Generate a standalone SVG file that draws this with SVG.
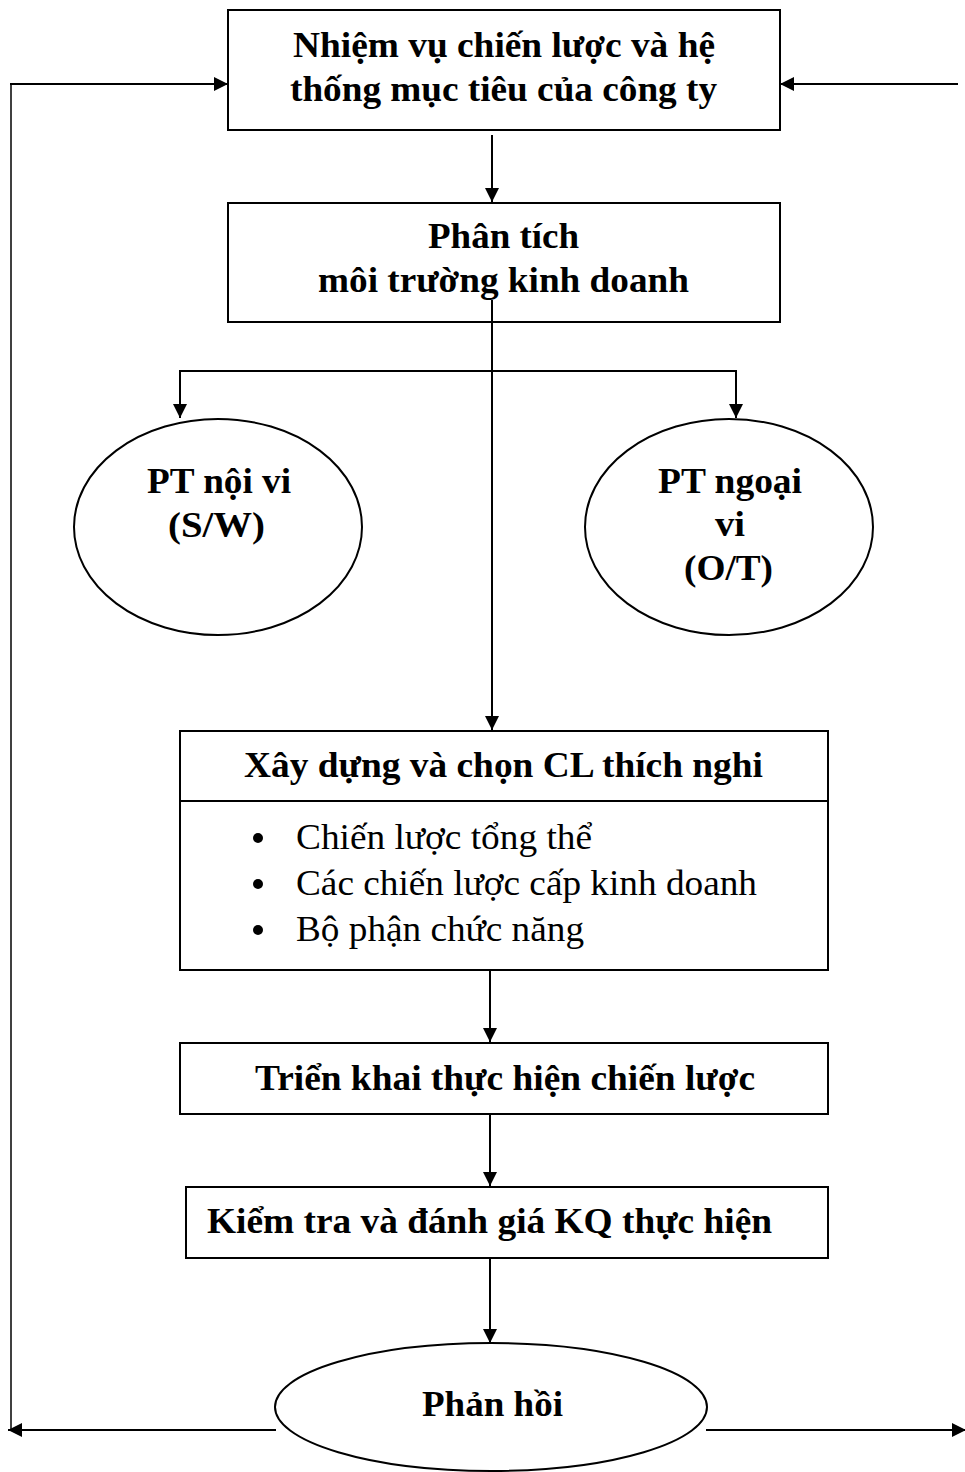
<svg xmlns="http://www.w3.org/2000/svg" width="965" height="1472" viewBox="0 0 965 1472">
<style>
.box{fill:#fff;stroke:#000;stroke-width:2}
.el{fill:#fff;stroke:#000;stroke-width:2}
.b{font-family:"Liberation Serif","Times New Roman",serif;font-weight:bold;font-size:36px;fill:#000;text-anchor:middle}
.r{font-family:"Liberation Serif","Times New Roman",serif;font-size:36px;fill:#000}
.ln{fill:none;stroke:#000;stroke-width:2}
</style>
<defs>
<marker id="ah2" viewBox="0 0 10 10" refX="10" refY="5" markerWidth="14" markerHeight="14" markerUnits="userSpaceOnUse" orient="auto">
<path d="M0,0 L10,5 L0,10 z" fill="#000"/>
</marker>
</defs>
<g id="connectors">
<line class="ln" x1="492" y1="135" x2="492" y2="202" marker-end="url(#ah2)"/>
<line class="ln" x1="492" y1="300" x2="492" y2="730" marker-end="url(#ah2)"/>
<polyline class="ln" points="180,400 180,371 736,371 736,400"/>
<line class="ln" x1="180" y1="390" x2="180" y2="418" marker-end="url(#ah2)"/>
<line class="ln" x1="736" y1="390" x2="736" y2="418" marker-end="url(#ah2)"/>
<line class="ln" x1="490" y1="971" x2="490" y2="1042" marker-end="url(#ah2)"/>
<line class="ln" x1="490" y1="1115" x2="490" y2="1186" marker-end="url(#ah2)"/>
<line class="ln" x1="490" y1="1259" x2="490" y2="1343" marker-end="url(#ah2)"/>
<line class="ln" x1="276" y1="1430" x2="8" y2="1430" marker-end="url(#ah2)"/>
<line class="ln" x1="706" y1="1430" x2="966" y2="1430" marker-end="url(#ah2)"/>
<line class="ln" x1="11" y1="1430" x2="11" y2="84" style="stroke-width:1.5"/>
<line class="ln" x1="10" y1="84" x2="228" y2="84" marker-end="url(#ah2)"/>
<line class="ln" x1="958" y1="84" x2="780" y2="84" marker-end="url(#ah2)"/>
</g>
<g id="n1">
<rect class="box" x="228" y="10" width="552" height="120"/>
<text class="b" x="504" y="57" textLength="422" lengthAdjust="spacingAndGlyphs">Nhiệm vụ chiến lược và hệ</text>
<text class="b" x="503.5" y="101" textLength="427" lengthAdjust="spacingAndGlyphs">thống mục tiêu của công ty</text>
</g>
<g id="n2">
<rect class="box" x="228" y="203" width="552" height="119"/>
<text class="b" x="503.5" y="248" textLength="151" lengthAdjust="spacingAndGlyphs">Phân tích</text>
<text class="b" x="503.5" y="292" textLength="371" lengthAdjust="spacingAndGlyphs">môi trường kinh doanh</text>
</g>
<line class="ln" x1="492" y1="300" x2="492" y2="322"/>
<g id="n3">
<ellipse class="el" cx="218" cy="527" rx="144" ry="108"/>
<text class="b" x="219" y="493" textLength="144" lengthAdjust="spacingAndGlyphs">PT nội vi</text>
<text class="b" x="216.5" y="537" textLength="97" lengthAdjust="spacingAndGlyphs">(S/W)</text>
</g>
<g id="n4">
<ellipse class="el" cx="729" cy="527" rx="144" ry="108"/>
<text class="b" x="730" y="493" textLength="144" lengthAdjust="spacingAndGlyphs">PT ngoại</text>
<text class="b" x="730" y="536" textLength="30" lengthAdjust="spacingAndGlyphs">vi</text>
<text class="b" x="728.5" y="580" textLength="89" lengthAdjust="spacingAndGlyphs">(O/T)</text>
</g>
<g id="n5">
<rect class="box" x="180" y="731" width="648" height="239"/>
<line class="ln" x1="180" y1="801" x2="828" y2="801"/>
<text class="b" x="503.5" y="777" textLength="519" lengthAdjust="spacingAndGlyphs">Xây dựng và chọn CL thích nghi</text>
<circle cx="258" cy="838" r="5"/>
<circle cx="258" cy="884" r="5"/>
<circle cx="258" cy="930" r="5"/>
<text class="r" x="296" y="849" textLength="296" lengthAdjust="spacingAndGlyphs">Chiến lược tổng thể</text>
<text class="r" x="296" y="895" textLength="461" lengthAdjust="spacingAndGlyphs">Các chiến lược cấp kinh doanh</text>
<text class="r" x="296" y="941" textLength="288" lengthAdjust="spacingAndGlyphs">Bộ phận chức năng</text>
</g>
<g id="n6">
<rect class="box" x="180" y="1043" width="648" height="71"/>
<text class="b" x="505" y="1090" textLength="500" lengthAdjust="spacingAndGlyphs">Triển khai thực hiện chiến lược</text>
</g>
<g id="n7">
<rect class="box" x="186" y="1187" width="642" height="71"/>
<text class="b" x="489.5" y="1233" textLength="565" lengthAdjust="spacingAndGlyphs">Kiểm tra và đánh giá KQ thực hiện</text>
</g>
<g id="n8">
<ellipse class="el" cx="491" cy="1407" rx="216" ry="64"/>
<text class="b" x="492.5" y="1416" textLength="141" lengthAdjust="spacingAndGlyphs">Phản hồi</text>
</g>
</svg>
